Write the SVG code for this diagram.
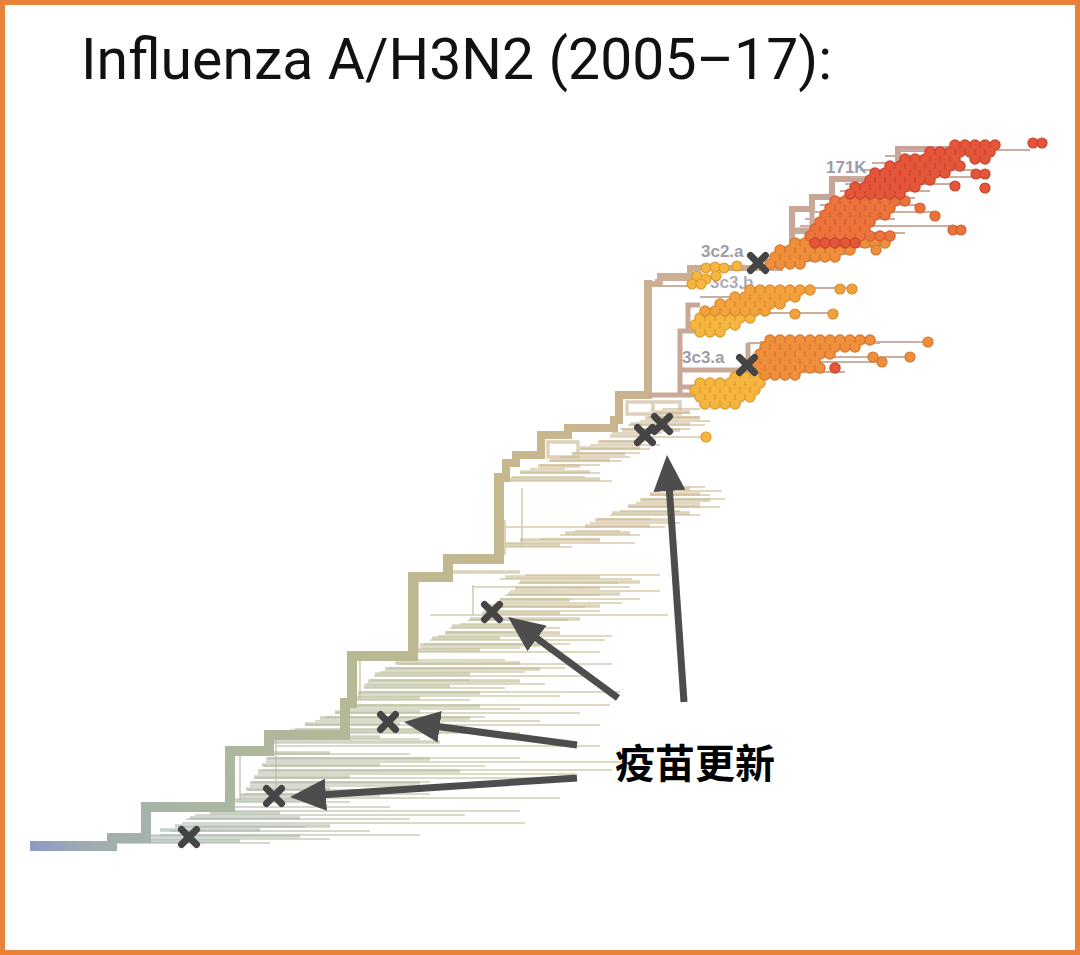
<svg xmlns="http://www.w3.org/2000/svg" xmlns:xlink="http://www.w3.org/1999/xlink" width="1080" height="955" viewBox="0 0 1080 955">
<style>
.title{font-family:Roboto,"Liberation Sans","Noto Sans",Arial,sans-serif;font-size:57px;font-weight:400;fill:#111}
.cn{font-family:"Noto Sans CJK SC","Noto Sans",sans-serif;font-size:40px;font-weight:700;fill:#000}
.lbl{font-family:"Liberation Sans",Arial,sans-serif;font-size:17px;font-weight:700;fill:#9C9DA8}
.tr{fill:none;stroke:url(#tg);stroke-linecap:square;stroke-linejoin:miter}
.med{fill:none;stroke:url(#mg);stroke-width:3.5;opacity:.65}
.pale{fill:none;stroke:url(#pg);stroke-width:1.6}
.topm{fill:none;stroke:#C8A896;stroke-width:5}
.topt{fill:none;stroke:#CCAE9F;stroke-width:2}
.dots{fill:none;stroke-linecap:round;stroke-dasharray:0 10}
.o{stroke-width:11.5}.f{stroke-width:9}
.yo{stroke:#DE9A30}.yf{stroke:#F5B640}
.yoo{stroke:#DC8A2E}.yof{stroke:#F2A23C}
.oo{stroke:#D6762C}.of{stroke:#EF8F3C}
.oro{stroke:#CF602E}.orf{stroke:#EC733B}
.ro{stroke:#C6462C}.rf{stroke:#E5553A}
.cy{fill:#F5B640;stroke:#DE9A30;stroke-width:1.2}.cyo{fill:#F2A23C;stroke:#DC8A2E;stroke-width:1.2}.co{fill:#EF8F3C;stroke:#D6762C;stroke-width:1.2}.cor{fill:#EC733B;stroke:#CF602E;stroke-width:1.2}.cr{fill:#E5553A;stroke:#C6462C;stroke-width:1.2}
.arw{fill:none;stroke:#4D4D4D;stroke-width:7}
</style>
<defs>
<linearGradient id="tg" gradientUnits="userSpaceOnUse" x1="35" y1="845" x2="1000" y2="150">
<stop offset="0" stop-color="#8E9CC2"/><stop offset="0.04" stop-color="#A0AEB0"/><stop offset="0.12" stop-color="#A9B6A3"/><stop offset="0.3" stop-color="#B7B993"/><stop offset="0.5" stop-color="#C6B88D"/><stop offset="0.68" stop-color="#CBB290"/><stop offset="0.82" stop-color="#C8A795"/><stop offset="1" stop-color="#C49F9B"/>
</linearGradient>
<linearGradient id="mg" gradientUnits="userSpaceOnUse" x1="35" y1="845" x2="1000" y2="150">
<stop offset="0" stop-color="#9AA8C4"/><stop offset="0.1" stop-color="#A9B6AE"/><stop offset="0.3" stop-color="#BABD9C"/><stop offset="0.5" stop-color="#C9BC93"/><stop offset="0.7" stop-color="#CDB595"/><stop offset="1" stop-color="#C9A79C"/>
</linearGradient>
<linearGradient id="pg" gradientUnits="userSpaceOnUse" x1="35" y1="845" x2="1000" y2="150">
<stop offset="0" stop-color="#B4BED6"/><stop offset="0.1" stop-color="#C2CBC4"/><stop offset="0.3" stop-color="#CDCFB4"/><stop offset="0.5" stop-color="#D6CBAA"/><stop offset="0.7" stop-color="#D9C6AC"/><stop offset="1" stop-color="#D8BDB1"/>
</linearGradient>
<path id="dY" d="M700 318H760M695 325H745M700 332H730M735 377H765M700 383H770M695 390H765M700 397H760M705 404H745"/>
<path id="dYO" d="M750 290H820M735 297H805M720 304H790M705 311H775"/>
<path id="dO" d="M795 243H810M865 243H895M780 250H860M775 257H840M770 264H810M770 340H880M765 347H865M760 354H840M755 361H825M760 368H830M765 375H800"/>
<path id="dOR" d="M835 201H915M830 208H900M825 215H895M820 222H880M815 229H875M810 236H900"/>
<path id="dR" d="M955 145H1005M930 152H1000M905 159H965M975 159H995M890 166H970M875 173H955M870 180H940M855 187H925M850 194H910M815 243H860M835 368H845"/>
<g id="xm"><path d="M-7.5 -7.5L7.5 7.5M7.5 -7.5L-7.5 7.5" stroke="#454545" stroke-width="7" stroke-linecap="round" fill="none"/></g>
<marker id="ah" viewBox="0 0 36 32" refX="2" refY="16" markerWidth="36" markerHeight="32" markerUnits="userSpaceOnUse" orient="auto"><path d="M0 0L36 16L0 32z" fill="#4D4D4D"/></marker>
</defs>
<rect x="2.5" y="2.5" width="1075" height="950" fill="#FFFFFF" stroke="#E8823A" stroke-width="5"/>
<g id="title"><text class="title" x="81" y="79" textLength="751" lengthAdjust="spacing">Influenza A/H3N2 (2005–17):</text></g>
<g id="tree">
<path class="pale" d="M115 843H270M150 839H330M160 835H420M170 831H370M178 827H305M182 823H525M186 819H410M195 815H465M215 811H520M232 807H390M236 802H350M240 798H560M244 794H430M248 790H385M250 786H475M252 782H430M255 778H545M258 774H575M262 770H612M264 766H485M266 762H625M268 758H520M272 754H410M275 746H600M276 739H420M285 733H520M295 729H465M305 725H600M315 721H540M325 717H485M335 713H580M342 709H520M348 705H610M356 700H470M358 696H560M360 692H620M364 688H505M366 684H545M370 680H470M374 676H592M380 672H525M388 668H565M398 664H612M410 660H505M416 652H600M420 648H520M424 644H570M430 640H605M438 636H612M445 632H540M450 628H560M460 624H520M468 620H568M430 615H668M485 611H600M490 607H585M495 603H622M500 599H640M505 595H600M510 591H660M473 587H630M518 583H618M500 579H632M525 575H660M505 547H572M505 543H635M540 539H600M560 535H640M575 531H620M503 527H665M590 523H680M598 519H650M610 515H700M620 511H680M628 507H720M636 503H700M642 499H725M650 495H710M655 491H722M662 487H705M505 481H612M512 477H585M520 473H600M530 469H565M540 465H600M548 461H622M560 457H630M572 453H640M580 449H650M590 445H660M600 441H648M650 437H706M612 433H662M620 429H690M628 425H705M640 421H710M648 417H700M656 413H690M662 409H700M240 752V800M276 738V790M360 660V700M418 580V650M473 585V615M505 520V555M522 488V545"/>
<path class="med" d="M112 841H240M150 836H300M160 830H260M175 826H330M190 818H300M210 813H280M232 800H300M240 795H380M246 789H330M250 783H420M254 777H350M258 771H460M262 765H380M266 759H430M270 753H330M272 742H440M278 737H380M290 731H460M305 724H400M320 718H470M335 712H420M345 706H480M355 698H420M358 693H480M364 686H450M368 681H520M375 674H470M385 669H540M395 663H520M415 650H480M420 645H540M432 638H500M445 633H560M452 626H520M470 619H580M482 613H560M490 606H600M500 600H570M508 594H620M515 588H600M520 582H640M505 577H600M450 572H520M505 545H560M520 540H600M565 533H630M585 526H650M595 520H670M612 513H690M628 506H700M640 500H710M650 494H700M660 489H690M508 479H600M520 472H590M538 466H580M550 460H610M572 454H625M580 448H640M598 442H640M610 436H650M622 430H680M630 424H690M645 418H700M655 412H690M548 442H578V457H548ZM627 402H680V414H627ZM653 402V414"/>
<path class="tr" stroke-width="10" d="M35 846H112V838H146V807H230V751H269V735H345V703H352V656H413V577H448V559H499V478"/>
<path class="tr" stroke-width="8" d="M499 478H506V463H516V455H541V435H568V428H614V420H619V395H648V284"/>
<path class="tr" stroke-width="6" d="M648 284H660V276H690V268H780V249H792V209H812V197H832V179H898V149H990"/>
<path class="topm" d="M648 395H700M680 395V331H700M688 331V305H700M680 370H748M748 343V372M680 387H705M792 230H812M812 197V240"/>
<path class="topt" d="M899 150H1030M885 156H960M872 163H950M860 170H975M850 177H985M845 184H955M840 191H930M830 198H915M820 205H920M812 212H935M805 219H895M800 226H955M795 233H905M790 240H870M780 247H876M775 254H850M770 261H820M740 288H852M700 297H760M700 313H833M760 342H928M760 357H910M760 362H882M700 382H760M748 343H880M748 372H845M655 280H700M662 286H700"/>
</g>
<g id="label-3c3b"><text class="lbl" x="710" y="288" fill-opacity="0.85">3c3.b</text></g>
<g id="tips">
<use href="#dY" class="dots o yo"/><use href="#dY" class="dots f yf"/>
<use href="#dYO" class="dots o yoo"/><use href="#dYO" class="dots f yof"/>
<use href="#dO" class="dots o oo"/><use href="#dO" class="dots f of"/>
<use href="#dOR" class="dots o oro"/><use href="#dOR" class="dots f orf"/>
<use href="#dR" class="dots o ro"/><use href="#dR" class="dots f rf"/>
<g class="cy"><circle cx="706" cy="437" r="5"/><circle cx="706" cy="268" r="5"/><circle cx="715" cy="267" r="5"/><circle cx="724" cy="268" r="5"/><circle cx="737" cy="266" r="5"/><circle cx="697" cy="276" r="5"/><circle cx="706" cy="279" r="5"/><circle cx="716" cy="276" r="5"/><circle cx="692" cy="284" r="5"/><circle cx="701" cy="284" r="5"/></g>
<g class="cyo"><circle cx="840" cy="289" r="5"/><circle cx="852" cy="289" r="5"/><circle cx="795" cy="314" r="5"/><circle cx="833" cy="314" r="5"/></g>
<g class="co"><circle cx="928" cy="342" r="5"/><circle cx="873" cy="357" r="5"/><circle cx="910" cy="357" r="5"/><circle cx="882" cy="362" r="5"/><circle cx="876" cy="250" r="5"/></g>
<g class="cor"><circle cx="920" cy="208" r="5"/><circle cx="935" cy="216" r="5"/><circle cx="953" cy="230" r="5"/><circle cx="961" cy="230" r="5"/></g>
<g class="cr"><circle cx="1033" cy="143" r="5"/><circle cx="1042" cy="143" r="5"/><circle cx="976" cy="174" r="5"/><circle cx="985" cy="174" r="5"/><circle cx="985" cy="188" r="5"/><circle cx="955" cy="186" r="5"/></g>
</g>
<g id="labels">
<text class="lbl" x="826" y="173">171K</text>
<text class="lbl" x="701" y="257">3c2.a</text>
<text class="lbl" x="682" y="363">3c3.a</text>
</g>
<g id="markers">
<use href="#xm" x="758" y="263"/><use href="#xm" x="747" y="365"/><use href="#xm" x="645" y="435"/><use href="#xm" x="662" y="424"/><use href="#xm" x="492" y="612"/><use href="#xm" x="388" y="722"/><use href="#xm" x="274" y="796"/><use href="#xm" x="189" y="837"/>
</g>
<g id="connectors">
<path class="arw" marker-end="url(#ah)" d="M684 702L669.3 488.9"/>
<path class="arw" marker-end="url(#ah)" d="M618 698L535.4 637.2"/>
<path class="arw" marker-end="url(#ah)" d="M577 745L437.7 726.5"/>
<path class="arw" marker-end="url(#ah)" d="M577 778L323.9 794.8"/>
</g>
<g id="vaccine-label"><text class="cn" x="615" y="778">疫苗更新</text></g>
</svg>
